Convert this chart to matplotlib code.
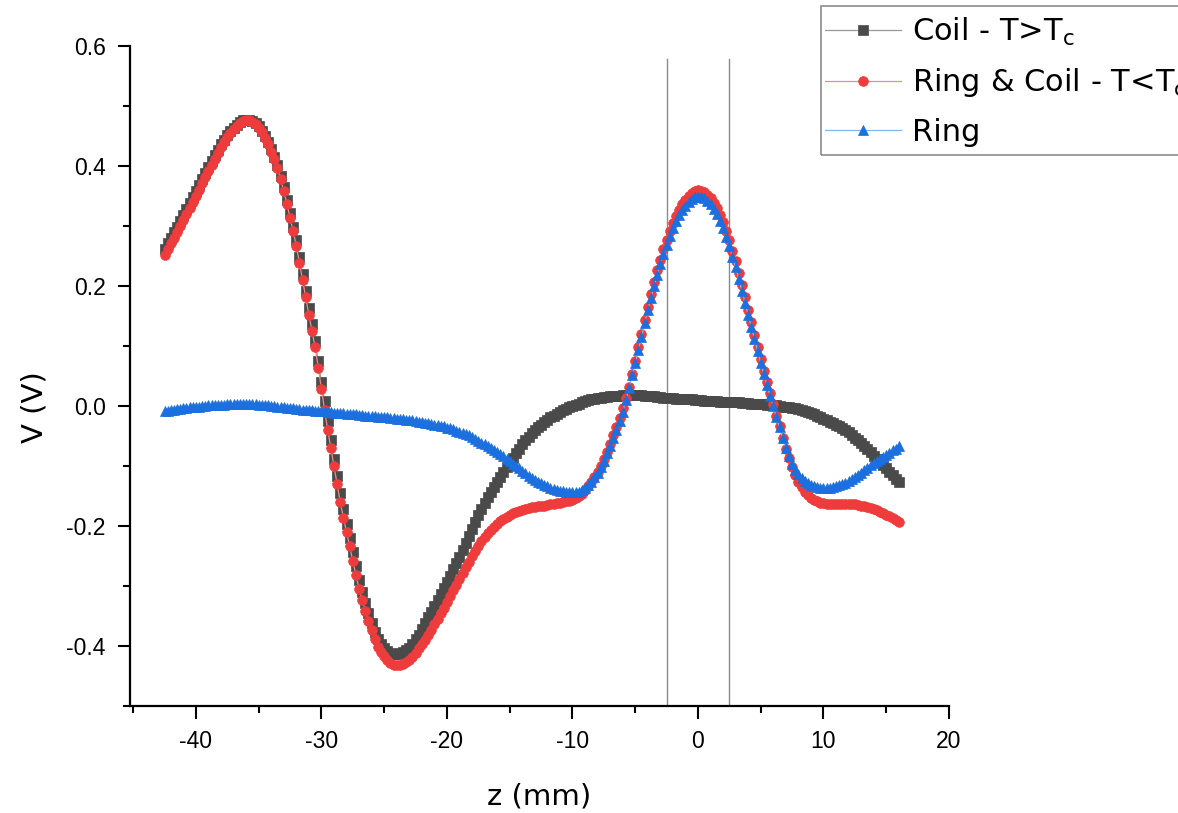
import numpy as np
import matplotlib
matplotlib.use("Agg")
import matplotlib.pyplot as plt
from matplotlib.patches import Rectangle
from matplotlib.ticker import MultipleLocator, FormatStrFormatter

plt.rcParams["font.family"] = ["Liberation Sans", "DejaVu Sans"]
plt.rcParams["mathtext.default"] = "regular"
plt.rcParams["axes.unicode_minus"] = False

# probe positions along the axis (mm), 0.25 mm steps
z = np.arange(-42.5, 16.01, 0.25)

# coil alone, above Tc
v_coil = [
    0.262, 0.271, 0.280, 0.290, 0.299, 0.309, 0.318, 0.328, 0.338, 0.348,
    0.358, 0.368, 0.378, 0.388, 0.398, 0.408, 0.418, 0.427, 0.436, 0.444,
    0.451, 0.458, 0.464, 0.469, 0.473, 0.476, 0.477, 0.477, 0.475, 0.471,
    0.466, 0.459, 0.450, 0.440, 0.428, 0.415, 0.401, 0.384, 0.365, 0.344,
    0.322, 0.299, 0.276, 0.249, 0.220, 0.192, 0.163, 0.136, 0.108, 0.075,
    0.040, 0.008, -0.025, -0.057, -0.088, -0.117, -0.145, -0.171, -0.196, -0.220,
    -0.243, -0.267, -0.290, -0.310, -0.328, -0.345, -0.361, -0.376, -0.388, -0.397,
    -0.403, -0.408, -0.411, -0.413, -0.413, -0.412, -0.410, -0.407, -0.403, -0.397,
    -0.389, -0.381, -0.372, -0.362, -0.352, -0.343, -0.333, -0.324, -0.314, -0.304,
    -0.294, -0.283, -0.272, -0.262, -0.251, -0.240, -0.229, -0.217, -0.205, -0.193,
    -0.182, -0.171, -0.161, -0.152, -0.144, -0.135, -0.127, -0.118, -0.110, -0.102,
    -0.094, -0.086, -0.078, -0.071, -0.064, -0.057, -0.051, -0.045, -0.040, -0.035,
    -0.031, -0.027, -0.023, -0.019, -0.016, -0.013, -0.010, -0.007, -0.005, -0.002,
    0.000, 0.002, 0.004, 0.006, 0.008, 0.010, 0.011, 0.012, 0.013, 0.014,
    0.015, 0.015, 0.016, 0.016, 0.017, 0.017, 0.018, 0.018, 0.018, 0.018,
    0.018, 0.018, 0.018, 0.017, 0.017, 0.016, 0.016, 0.015, 0.015, 0.014,
    0.014, 0.013, 0.013, 0.012, 0.012, 0.011, 0.011, 0.011, 0.011, 0.010,
    0.010, 0.010, 0.009, 0.009, 0.009, 0.008, 0.008, 0.007, 0.007, 0.007,
    0.007, 0.006, 0.006, 0.006, 0.005, 0.005, 0.005, 0.004, 0.004, 0.004,
    0.003, 0.003, 0.002, 0.002, 0.001, 0.001, 0.000, -0.001, -0.001, -0.002,
    -0.003, -0.004, -0.005, -0.006, -0.008, -0.010, -0.012, -0.014, -0.016, -0.018,
    -0.021, -0.023, -0.026, -0.028, -0.031, -0.034, -0.037, -0.040, -0.044, -0.048,
    -0.053, -0.057, -0.062, -0.067, -0.072, -0.077, -0.083, -0.088, -0.094, -0.099,
    -0.104, -0.110, -0.115, -0.121, -0.126,
]

# ring + coil, below Tc
v_ring_coil = [
    0.252, 0.261, 0.271, 0.280, 0.290, 0.300, 0.310, 0.320, 0.330, 0.340,
    0.350, 0.360, 0.371, 0.381, 0.392, 0.402, 0.412, 0.422, 0.431, 0.440,
    0.448, 0.455, 0.462, 0.467, 0.472, 0.475, 0.477, 0.477, 0.474, 0.470,
    0.464, 0.456, 0.447, 0.436, 0.424, 0.411, 0.396, 0.378, 0.358, 0.337,
    0.314, 0.291, 0.267, 0.239, 0.210, 0.181, 0.152, 0.125, 0.098, 0.063,
    0.028, -0.006, -0.040, -0.070, -0.100, -0.130, -0.160, -0.186, -0.210, -0.234,
    -0.258, -0.282, -0.305, -0.324, -0.341, -0.358, -0.374, -0.389, -0.402, -0.410,
    -0.417, -0.423, -0.428, -0.431, -0.432, -0.432, -0.430, -0.427, -0.423, -0.418,
    -0.411, -0.404, -0.397, -0.390, -0.382, -0.373, -0.364, -0.355, -0.345, -0.336,
    -0.326, -0.317, -0.307, -0.298, -0.288, -0.279, -0.269, -0.260, -0.250, -0.241,
    -0.233, -0.225, -0.218, -0.212, -0.206, -0.201, -0.196, -0.192, -0.188, -0.185,
    -0.182, -0.179, -0.177, -0.175, -0.173, -0.171, -0.170, -0.169, -0.168, -0.167,
    -0.166, -0.166, -0.165, -0.164, -0.163, -0.162, -0.161, -0.160, -0.159, -0.158,
    -0.156, -0.154, -0.150, -0.146, -0.140, -0.134, -0.127, -0.119, -0.110, -0.100,
    -0.089, -0.076, -0.063, -0.049, -0.035, -0.020, -0.004, 0.013, 0.031, 0.053,
    0.075, 0.098, 0.120, 0.143, 0.165, 0.186, 0.206, 0.226, 0.244, 0.261,
    0.276, 0.291, 0.305, 0.317, 0.327, 0.336, 0.344, 0.350, 0.355, 0.358,
    0.360, 0.359, 0.357, 0.352, 0.346, 0.339, 0.330, 0.319, 0.306, 0.292,
    0.276, 0.259, 0.241, 0.221, 0.201, 0.181, 0.160, 0.140, 0.119, 0.098,
    0.078, 0.059, 0.040, 0.021, 0.003, -0.016, -0.034, -0.053, -0.071, -0.087,
    -0.102, -0.115, -0.126, -0.135, -0.143, -0.148, -0.153, -0.156, -0.159, -0.161,
    -0.162, -0.163, -0.163, -0.163, -0.163, -0.163, -0.163, -0.163, -0.163, -0.163,
    -0.164, -0.165, -0.166, -0.167, -0.169, -0.170, -0.172, -0.174, -0.176, -0.178,
    -0.181, -0.184, -0.187, -0.190, -0.193,
]

# ring only
v_ring = [
    -0.009, -0.008, -0.007, -0.006, -0.005, -0.005, -0.004, -0.003, -0.002, -0.002,
    -0.001, -0.001, 0.000, 0.000, 0.001, 0.001, 0.002, 0.002, 0.002, 0.002,
    0.003, 0.003, 0.003, 0.003, 0.003, 0.003, 0.003, 0.003, 0.003, 0.003,
    0.002, 0.002, 0.001, 0.001, 0.000, 0.000, -0.001, -0.001, -0.002, -0.003,
    -0.004, -0.004, -0.005, -0.005, -0.006, -0.006, -0.007, -0.007, -0.008, -0.008,
    -0.009, -0.009, -0.010, -0.010, -0.011, -0.011, -0.012, -0.012, -0.013, -0.013,
    -0.014, -0.014, -0.015, -0.015, -0.016, -0.016, -0.017, -0.017, -0.018, -0.018,
    -0.019, -0.019, -0.020, -0.020, -0.021, -0.021, -0.022, -0.023, -0.024, -0.024,
    -0.025, -0.026, -0.027, -0.028, -0.029, -0.030, -0.031, -0.032, -0.033, -0.034,
    -0.036, -0.037, -0.039, -0.041, -0.043, -0.045, -0.047, -0.049, -0.052, -0.055,
    -0.058, -0.061, -0.064, -0.067, -0.070, -0.073, -0.077, -0.080, -0.084, -0.088,
    -0.092, -0.096, -0.100, -0.104, -0.108, -0.112, -0.116, -0.120, -0.123, -0.126,
    -0.129, -0.132, -0.134, -0.136, -0.138, -0.140, -0.141, -0.142, -0.143, -0.144,
    -0.144, -0.144, -0.143, -0.140, -0.136, -0.131, -0.126, -0.119, -0.111, -0.101,
    -0.091, -0.079, -0.066, -0.053, -0.040, -0.025, -0.010, 0.010, 0.030, 0.051,
    0.072, 0.094, 0.115, 0.138, 0.160, 0.180, 0.200, 0.219, 0.237, 0.253,
    0.268, 0.283, 0.297, 0.308, 0.318, 0.327, 0.334, 0.340, 0.345, 0.348,
    0.349, 0.348, 0.346, 0.341, 0.336, 0.329, 0.320, 0.309, 0.296, 0.282,
    0.266, 0.249, 0.231, 0.212, 0.192, 0.172, 0.152, 0.132, 0.112, 0.092,
    0.072, 0.053, 0.035, 0.017, 0.000, -0.018, -0.035, -0.053, -0.070, -0.084,
    -0.097, -0.106, -0.114, -0.120, -0.125, -0.129, -0.132, -0.134, -0.135, -0.136,
    -0.136, -0.136, -0.136, -0.135, -0.134, -0.132, -0.130, -0.128, -0.125, -0.122,
    -0.118, -0.115, -0.111, -0.107, -0.103, -0.099, -0.095, -0.092, -0.088, -0.085,
    -0.081, -0.078, -0.074, -0.071, -0.067,
]

# edges of the ring (mm)
ring_edges = [-2.5, 2.5]

series = [
    (v_coil, "Coil - T>T$_{c}$", "s", "#4a4a4a", "#9a9a9a"),
    (v_ring_coil, "Ring & Coil - T<T$_{c}$", "o", "#ee3b3b", "#f08a8a"),
    (v_ring, "Ring", "^", "#1b6fde", "#86b4ea"),
]

W, H = 1178, 813
fig = plt.figure(figsize=(W / 100, H / 100), dpi=100, facecolor="white")
ax = fig.add_axes([130 / W, 107 / H, 819 / W, 660 / H])

for x0 in ring_edges:
    ax.plot([x0, x0], [-0.5, 0.578], color="#8a8a8a", linewidth=1.0, zorder=1)

handles = []
for vals, label, marker, mcol, lcol in series:
    (h,) = ax.plot(z, vals, color=lcol, linewidth=0.9, marker=marker,
                   markersize=7, markerfacecolor=mcol, markeredgecolor=mcol,
                   markeredgewidth=0.5, label=label, zorder=2)
    handles.append(h)

ax.set_xlim(-45.25, 20)
ax.set_ylim(-0.5, 0.6)
ax.xaxis.set_major_locator(MultipleLocator(10))
ax.xaxis.set_minor_locator(MultipleLocator(5))
ax.yaxis.set_major_locator(MultipleLocator(0.2))
ax.yaxis.set_minor_locator(MultipleLocator(0.1))
ax.yaxis.set_major_formatter(FormatStrFormatter("%.1f"))

for b in ["top", "right"]:
    ax.spines[b].set_visible(False)
for b in ["left", "bottom"]:
    ax.spines[b].set_linewidth(1.6)

ax.tick_params(which="major", direction="out", length=9, width=1.5, labelsize=16.5, pad=8.5)
ax.tick_params(which="minor", direction="out", length=5, width=1.5)

ax.set_xlabel("z (mm)", fontsize=21, family="DejaVu Sans", labelpad=21)
ax.set_ylabel("V (V)", fontsize=21, family="DejaVu Sans")
ax.yaxis.set_label_coords(-0.1, 0.453)

# legend box runs past the right edge of the figure
fig.patches.append(Rectangle((821 / W, 1 - 155 / H), 400 / W, 149 / H,
                             transform=fig.transFigure, fill=False,
                             edgecolor="#8c8c8c", linewidth=1.2))
leg = fig.legend(handles, [h.get_label() for h in handles], loc="upper left",
                 bbox_to_anchor=(825 / W, 1 - 16 / H),
                 prop={"family": "DejaVu Sans", "size": 22},
                 numpoints=1, handlelength=2.5, handletextpad=0.36,
                 borderpad=0, labelspacing=0.6, borderaxespad=0,
                 frameon=False)

fig.savefig("out.png", dpi=100, facecolor="white")
